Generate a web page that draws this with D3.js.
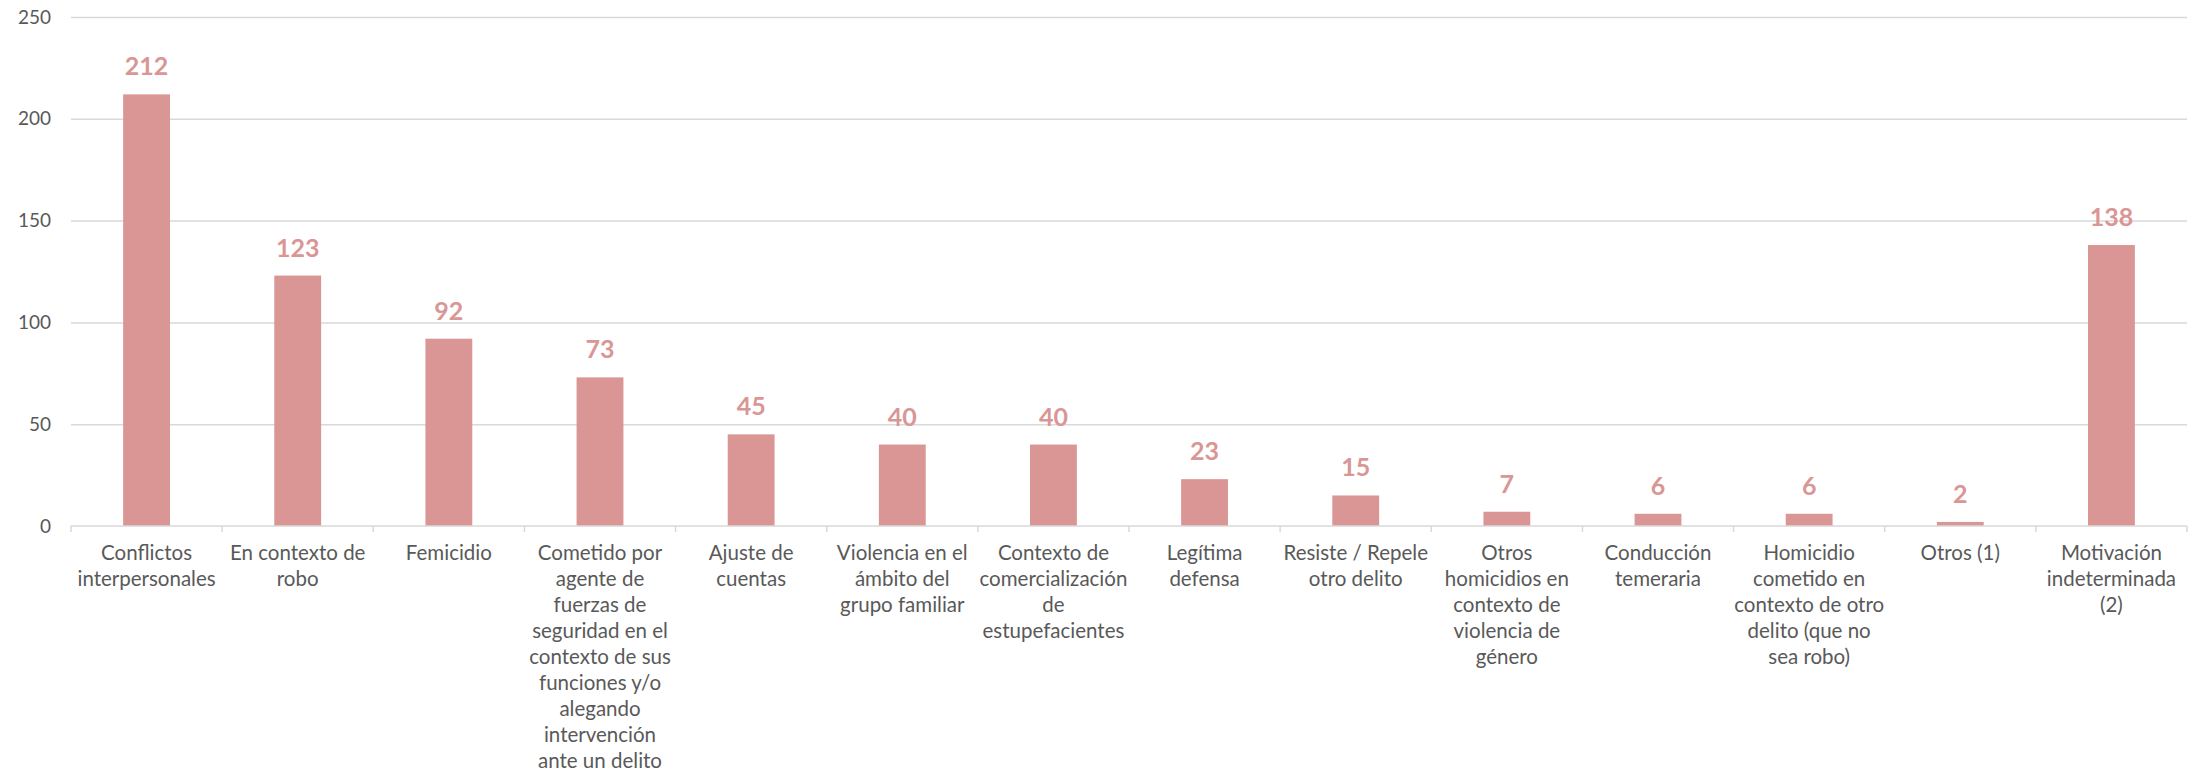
<!doctype html>
<html>
<head>
<meta charset="utf-8">
<style>
    body { margin: 0; background: #fff; }
    text { font-family: Lato, "Open Sans", sans-serif; }
</style>
<script src="https://d3js.org/d3.v7.min.js"></script>
</head>
<body>
<svg width="2192" height="775"></svg>
<script>

    // categories (line breaks as in the original chart)
    var categories = [
        "Conflictos\ninterpersonales",
        "En contexto de\nrobo",
        "Femicidio",
        "Cometido por\nagente de\nfuerzas de\nseguridad en el\ncontexto de sus\nfunciones y/o\nalegando\nintervención\nante un delito",
        "Ajuste de\ncuentas",
        "Violencia en el\námbito del\ngrupo familiar",
        "Contexto de\ncomercialización\nde\nestupefacientes",
        "Legítima\ndefensa",
        "Resiste / Repele\notro delito",
        "Otros\nhomicidios en\ncontexto de\nviolencia de\ngénero",
        "Conducción\ntemeraria",
        "Homicidio\ncometido en\ncontexto de otro\ndelito (que no\nsea robo)",
        "Otros (1)",
        "Motivación\nindeterminada\n(2)"
    ];
    var values = [212, 123, 92, 73, 45, 40, 40, 23, 15, 7, 6, 6, 2, 138];
    var yTicks = [0, 50, 100, 150, 200, 250];

    var svg = d3.select("svg"),
        margin = {top: 17, right: 5, bottom: 249, left: 71},
        width = 2192 - margin.left - margin.right,
        height = 775 - margin.top - margin.bottom;

    var barColor = "#d99694",
        textColor = "#595959",
        gridColor = "#d9d9d9";

    var data = categories.map(function(c, i) { return {name: c, value: values[i]}; });

    var xScale = d3.scaleBand()
        .domain(data.map(function(d) { return d.name; }))
        .range([0, width])
        .paddingInner(0.69)
        .paddingOuter(0.345);

    var yScale = d3.scaleLinear().domain([0, 250]).range([height, 0]);

    var g = svg.append("g")
        .attr("transform", "translate(" + margin.left + "," + margin.top + ")");

    // gridlines + y labels
    var yAxis = g.append("g")
        .call(d3.axisLeft(yScale).tickValues(yTicks).tickSize(-width).tickPadding(20));
    yAxis.select(".domain").remove();
    yAxis.selectAll(".tick line")
        .attr("stroke", gridColor)
        .attr("stroke-width", 1.5)
        .filter(function(d) { return d === 0; }).remove();
    yAxis.selectAll(".tick text")
        .attr("fill", textColor)
        .style("font-size", "19px");

    // bars
    g.selectAll(".bar")
        .data(data)
        .enter().append("rect")
        .attr("class", "bar")
        .attr("fill", barColor)
        .attr("x", function(d) { return xScale(d.name); })
        .attr("y", function(d) { return yScale(d.value); })
        .attr("width", xScale.bandwidth())
        .attr("height", function(d) { return height - yScale(d.value); });

    // value labels
    g.selectAll(".val")
        .data(data)
        .enter().append("text")
        .attr("class", "val")
        .attr("x", function(d) { return xScale(d.name) + xScale.bandwidth() / 2; })
        .attr("y", function(d) { return yScale(d.value) - 19; })
        .attr("text-anchor", "middle")
        .attr("fill", barColor)
        .style("font-size", "25px")
        .style("font-weight", "bold")
        .text(function(d) { return d.value; });

    // x axis line with ticks between categories
    var xAxis = g.append("g").attr("transform", "translate(0," + height + ")");
    xAxis.append("line")
        .attr("x1", 0).attr("x2", width)
        .attr("stroke", gridColor).attr("stroke-width", 1.5);
    var step = xScale.step();
    xAxis.selectAll(".sep")
        .data(d3.range(categories.length + 1))
        .enter().append("line")
        .attr("class", "sep")
        .attr("x1", function(i) { return i * step; })
        .attr("x2", function(i) { return i * step; })
        .attr("y1", 0).attr("y2", 6)
        .attr("stroke", gridColor).attr("stroke-width", 1.5);

    // category labels
    var labels = xAxis.selectAll(".cat")
        .data(data)
        .enter().append("text")
        .attr("class", "cat")
        .attr("text-anchor", "middle")
        .attr("fill", textColor)
        .style("font-size", "20.5px")
        .attr("transform", function(d) {
            return "translate(" + (xScale(d.name) + xScale.bandwidth() / 2) + ",34)";
        });
    labels.selectAll("tspan")
        .data(function(d) { return d.name.split("\n"); })
        .enter().append("tspan")
        .attr("x", 0)
        .attr("y", function(s, i) { return i * 26; })
        .text(function(s) { return s; });

</script>
</body>
</html>
